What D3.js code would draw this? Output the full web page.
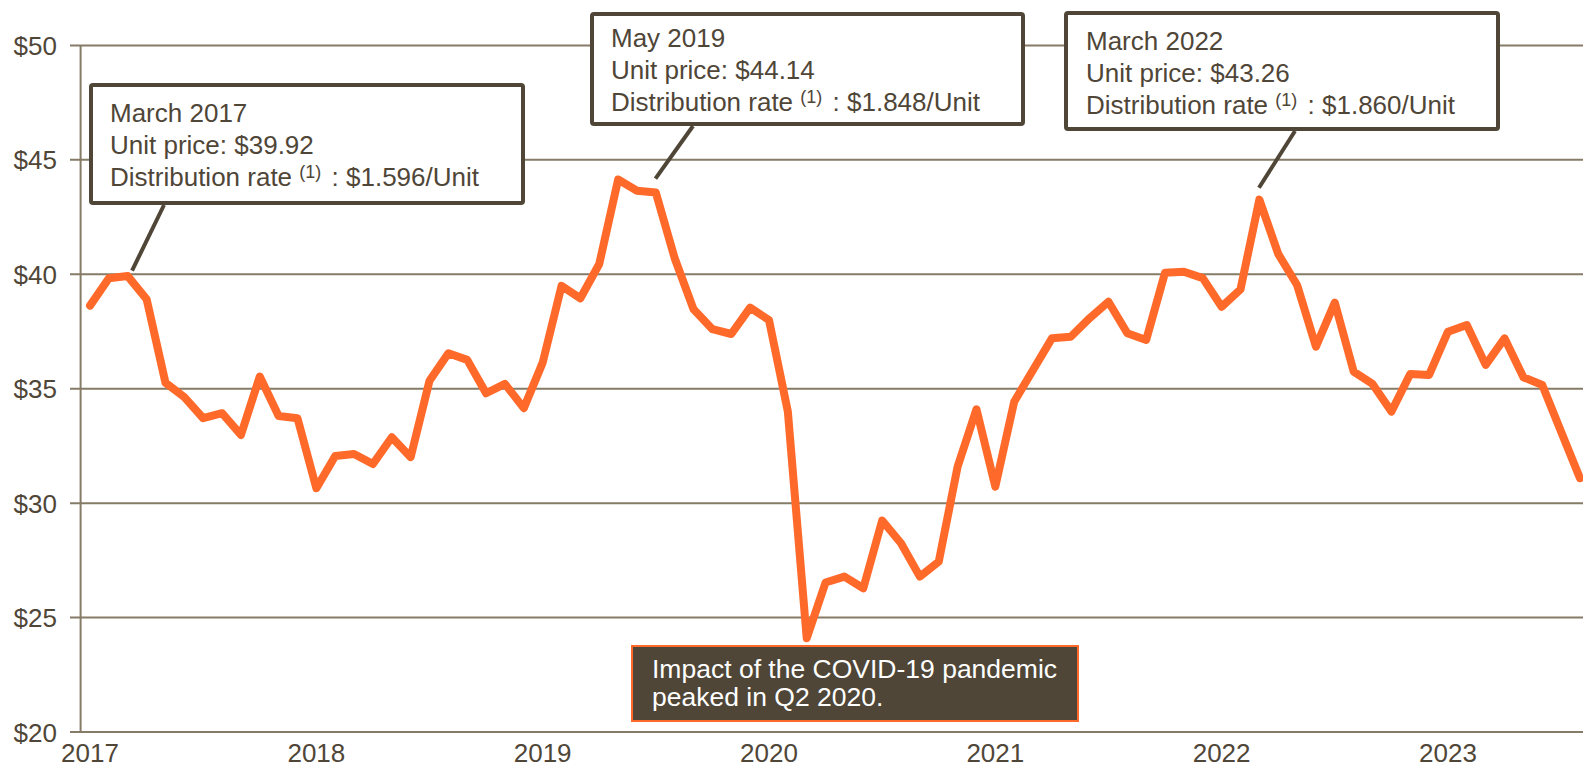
<!DOCTYPE html>
<html>
<head>
<meta charset="utf-8">
<script src="https://cdn.jsdelivr.net/npm/d3@7"></script>
<style>
  body { margin: 0; background: #fff; }
  svg { display: block; font-family: "Liberation Sans", Arial, sans-serif; }
</style>
</head>
<body>
<svg width="1583" height="768"></svg>
<script>
// monthly unit price, Jan 2017 .. Aug 2023
const prices = [
    38.63, 39.83, 39.92, 38.91, 35.26, 34.63, 33.71, 33.93, 32.98, 35.53, 33.81, 33.71,
    30.65, 32.06, 32.15, 31.71, 32.88, 32.01, 35.35, 36.55, 36.26, 34.80, 35.21, 34.15,
    36.14, 39.49, 38.95, 40.45, 44.14, 43.65, 43.57, 40.70, 38.47, 37.60, 37.39, 38.54,
    38.00, 34.00, 24.10, 26.53, 26.79, 26.28, 29.24, 28.25, 26.79, 27.44, 31.59, 34.10,
    30.72, 34.43, 35.82, 37.20, 37.27, 38.08, 38.80, 37.42, 37.13, 40.07, 40.11, 39.83,
    38.58, 39.34, 43.26, 40.89, 39.53, 36.84, 38.76, 35.75, 35.21, 34.00, 35.64, 35.60,
    37.49, 37.78, 36.04, 37.20, 35.50, 35.16, 33.12, 31.09
];
const years = ['2017', '2018', '2019', '2020', '2021', '2022', '2023'];
const yTicks = [20, 25, 30, 35, 40, 45, 50];

const callouts = [
    { idx: 2, lines: ['March 2017', 'Unit price: $39.92', '$1.596/Unit'] },
    { idx: 28, lines: ['May 2019', 'Unit price: $44.14', '$1.848/Unit'] },
    { idx: 62, lines: ['March 2022', 'Unit price: $43.26', '$1.860/Unit'] }
];
const covidNote = ['Impact of the COVID-19 pandemic', 'peaked in Q2 2020.'];

const W = 1583, H = 768;
const ink = '#4f4638';
const grid = '#857b66';
const orange = '#ff6a2b';

const svg = d3.select('svg');

const x = d3.scaleLinear().domain([-0.5, 79.5]).range([80.6, 1589.4]);
const y = d3.scaleLinear().domain([20, 50]).range([732, 45.4]);

// gridlines + y ticks
svg.append('g')
    .selectAll('line')
    .data(yTicks)
    .join('line')
    .attr('x1', 70)
    .attr('x2', W)
    .attr('y1', d => y(d))
    .attr('y2', d => y(d))
    .style('stroke', grid)
    .style('stroke-width', 2);

svg.append('line')
    .attr('x1', x(-0.5)).attr('x2', x(-0.5))
    .attr('y1', y(50)).attr('y2', y(20))
    .style('stroke', grid)
    .style('stroke-width', 2);

svg.append('g')
    .selectAll('text')
    .data(yTicks)
    .join('text')
    .attr('x', 57)
    .attr('y', d => y(d) + 9.5)
    .attr('text-anchor', 'end')
    .style('font-size', '26px')
    .style('fill', ink)
    .text(d => '$' + d);

// year labels at each January
svg.append('g')
    .selectAll('text')
    .data(years)
    .join('text')
    .attr('x', (d, i) => x(i * 12))
    .attr('y', 762)
    .attr('text-anchor', 'middle')
    .style('font-size', '26px')
    .style('fill', ink)
    .text(d => d);

// price line
const line = d3.line()
    .x((d, i) => x(i))
    .y(d => y(d));

svg.append('path')
    .datum(prices)
    .attr('d', line)
    .style('fill', 'none')
    .style('stroke', orange)
    .style('stroke-width', 8)
    .style('stroke-linejoin', 'round')
    .style('stroke-linecap', 'round');

// callout boxes
const boxes = [
    { x: 89, y: 83, w: 436, h: 122, tx: 110, ty: 122, lead: [2.23, 40.16], end: [164, 205] },
    { x: 590, y: 12, w: 435, h: 114, tx: 611, ty: 47, lead: [29.98, 44.18], end: [693, 126] },
    { x: 1064, y: 11, w: 436, h: 120, tx: 1086, ty: 49.5, lead: [61.98, 43.78], end: [1295, 131] }
];

callouts.forEach(function (c, k) {
    const b = boxes[k];
    svg.append('line')
        .attr('x1', x(b.lead[0]))
        .attr('y1', y(b.lead[1]))
        .attr('x2', b.end[0])
        .attr('y2', b.end[1])
        .style('stroke', ink)
        .style('stroke-width', 4);

    svg.append('rect')
        .attr('x', b.x + 2).attr('y', b.y + 2)
        .attr('width', b.w - 4).attr('height', b.h - 4)
        .attr('rx', 2)
        .style('fill', '#fff')
        .style('stroke', ink)
        .style('stroke-width', 4);

    const t = svg.append('text')
        .attr('x', b.tx)
        .attr('y', b.ty)
        .style('font-size', '26px')
        .style('fill', ink);
    t.append('tspan').attr('x', b.tx).text(c.lines[0]);
    t.append('tspan').attr('x', b.tx).attr('dy', 32).text(c.lines[1]);
    t.append('tspan').attr('x', b.tx).attr('dy', 32).text('Distribution rate ');
    t.append('tspan').attr('dy', -8).style('font-size', '18px').text('(1)');
    t.append('tspan').attr('dy', 8).attr('dx', 3).text(' :  ' + c.lines[2]);
});

// covid note
svg.append('rect')
    .attr('x', 632).attr('y', 646)
    .attr('width', 446).attr('height', 75)
    .style('fill', '#4f4637')
    .style('stroke', orange)
    .style('stroke-width', 2);

svg.append('text')
    .attr('x', 652)
    .attr('y', 678)
    .style('font-size', '26.5px')
    .style('fill', '#fff')
    .selectAll('tspan')
    .data(covidNote)
    .join('tspan')
    .attr('x', 652)
    .attr('dy', (d, i) => i ? 28 : 0)
    .text(d => d);
</script>
</body>
</html>
